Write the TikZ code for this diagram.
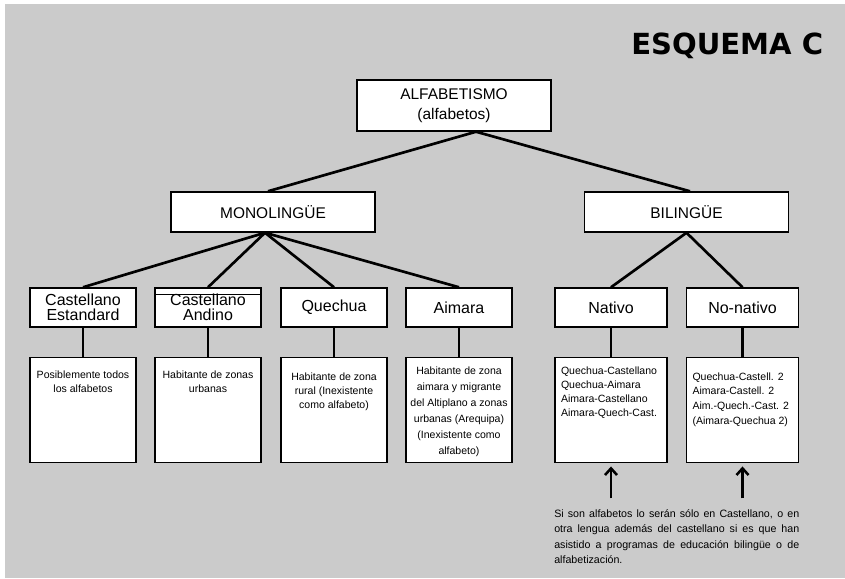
\documentclass[tikz,border=0pt]{standalone}
\usepackage{fontspec}
\setmainfont{Liberation Sans}
\newfontfamily\titlefont{DejaVu Sans}
\usetikzlibrary{arrows.meta}

\definecolor{bggray}{RGB}{203,203,203}
\newcommand{\infobody}[2]{\parbox[t][78.75pt][t]{74pt}{\centering\vspace*{#1}#2}}
\newcommand{\listbody}[2]{\parbox[t][78.75pt][t]{75pt}{\raggedright\vspace*{#1}#2}}

\begin{document}
\begin{tikzpicture}[x=0.75pt,y=-0.75pt,
  topbox/.style={draw=black,fill=white,line width=1.1pt,align=center,minimum width=153pt,minimum height=30pt,font=\fontsize{11.6pt}{15pt}\selectfont},
  langbox/.style={draw=black,fill=white,line width=1.1pt,align=center,minimum width=79.5pt,minimum height=29.25pt,inner sep=1pt,font=\fontsize{12pt}{11.25pt}\selectfont},
  infobox/.style={draw=black,fill=white,line width=1.1pt,minimum width=79.5pt,inner sep=0pt,anchor=north,font=\fontsize{7.9pt}{10.5pt}\selectfont},
  link/.style={line width=2pt},
  uparrow/.style={-{Straight Barb[length=5pt,width=9pt]},line width=1.9pt,shorten >=2.25pt},
  note/.style={text width=183.75pt,align=justify,inner sep=0pt,font=\fontsize{8pt}{11.6pt}\selectfont}]
  \useasboundingbox (0,0) rectangle (845,578);
  \fill[bggray] (5,4) rectangle (845,578);

  \node[inner sep=0pt,anchor=base west,font=\titlefont\fontsize{21.8pt}{22pt}\selectfont\bfseries] (title) at (631,54) {ESQUEMA C};

  \node[topbox,minimum width=145.5pt,minimum height=38.25pt] (alf) at (454,105.5) {ALFABETISMO\\(alfabetos)};
  \node[topbox] (mono) at (273,212) {MONOLINGÜE};
  \node[topbox] (bil) at (686.5,212) {BILINGÜE};

  \node[langbox] (ce) at (83,307.5) {Castellano\\Estandard};
  \node[langbox] (ca) at (208,307.5) {Castellano\\Andino};
  \node[langbox] (qu) at (334,307.5) {Quechua};
  \node[langbox] (ai) at (459,307.5) {Aimara};
  \node[langbox,minimum width=84pt] (na) at (611,307.5) {Nativo};
  \node[langbox,minimum width=84pt] (nn) at (742.5,307.5) {No-nativo};
  % second top edge on Castellano Andino
  \draw[line width=1.1pt] ([yshift=-5.25pt]ca.north west) -- ([yshift=-5.25pt]ca.north east);

  \node[infobox] (ce_info) at (83,357) {\infobody{10pt}{Posiblemente todos\\los alfabetos}};
  \node[infobox] (ca_info) at (208,357) {\infobody{10pt}{Habitante de zonas\\urbanas}};
  \node[infobox] (qu_info) at (334,357) {\infobody{11pt}{Habitante de zona\\rural (Inexistente\\como alfabeto)}};
  \node[infobox,font=\fontsize{7.9pt}{12pt}\selectfont] (ai_info) at (459,357) {\infobody{6.5pt}{Habitante de zona\\aimara y migrante\\del Altiplano a zonas\\urbanas (Arequipa)\\(Inexistente como\\alfabeto)}};
  \node[infobox,minimum width=84pt] (na_info) at (611,357) {\listbody{6.5pt}{Quechua-Castellano\\Quechua-Aimara\\Aimara-Castellano\\Aimara-Quech-Cast.}};
  \node[infobox,minimum width=84pt,font=\fontsize{7.9pt}{11pt}\selectfont] (nn_info) at (742.5,357) {\listbody{11pt}{Quechua-Castell. 2\\Aimara-Castell. 2\\Aim.-Quech.-Cast. 2\\(Aimara-Quechua 2)}};

  \node[note,anchor=north west] (note) at (554,509) {Si son alfabetos lo serán sólo en Castellano, o en\linebreak otra lengua además del castellano si es que han\linebreak asistido a programas de educación bilingüe o de\linebreak alfabetización.};

  \draw[link] ([xshift=16.5pt]alf.south) -- ([xshift=-3.75pt]mono.north);
  \draw[link] ([xshift=16.5pt]alf.south) -- ([xshift=2.6pt]bil.north);
  \foreach \n in {ce,ca,qu,ai}
    \draw[link] ([xshift=-6pt]mono.south) -- (\n.north);
  \foreach \n in {na,nn}
    \draw[link] (bil.south) -- (\n.north);
  \foreach \n in {ce,ca,qu,ai,na,nn}
    \draw[link] (\n.south) -- (\n_info.north);

  \coordinate (na_tail) at ([yshift=-26.25pt]na_info.south);
  \coordinate (nn_tail) at ([yshift=-26.25pt]nn_info.south);
  \draw[uparrow] (na_tail) -- (na_info);
  \draw[uparrow] (nn_tail) -- (nn_info);
\end{tikzpicture}
\end{document}
